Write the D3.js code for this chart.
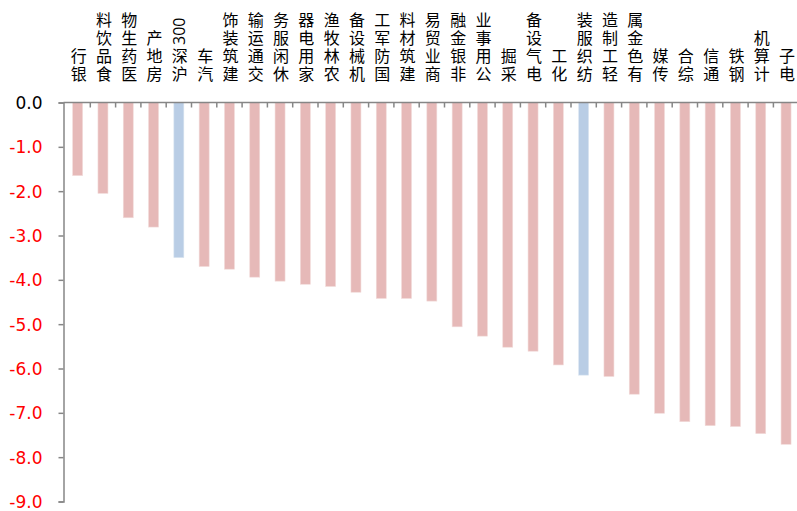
<!DOCTYPE html>
<html>
<head>
<meta charset="utf-8">
<script src="https://cdn.jsdelivr.net/npm/d3@7"></script>
<style>
  html, body { margin: 0; padding: 0; background: #fff; }
  svg { display: block; }
</style>
</head>
<body>
<svg id="chart" width="797" height="511"></svg>
<script>
// ---- data ----
const categories = ["银行","食品饮料","医药生物","房地产","沪深300","汽车","建筑装饰","交通运输","休闲服务","家用电器","农林牧渔","机械设备","国防军工","建筑材料","商业贸易","非银金融","公用事业","采掘","电气设备","化工","纺织服装","轻工制造","有色金属","传媒","综合","通信","钢铁","计算机","电子"];
const values = [-1.65,-2.05,-2.60,-2.81,-3.50,-3.70,-3.76,-3.94,-4.03,-4.10,-4.15,-4.28,-4.42,-4.42,-4.48,-5.06,-5.27,-5.52,-5.61,-5.92,-6.15,-6.18,-6.58,-7.01,-7.20,-7.29,-7.31,-7.47,-7.71];
const highlighted = ["沪深300","纺织服装"];
const yTicks = [0,-1,-2,-3,-4,-5,-6,-7,-8,-9];

// ---- layout ----
const svg = d3.select("#chart");
const xb = d3.scaleBand().domain(categories).range([65, 65 + 29 * 25.3]);
const y = d3.scaleLinear().domain([0, -9]).range([102.5, 501.5]);

const axisColor = "#868686";

// bars
svg.append("g").selectAll("rect").data(categories).join("rect")
  .attr("x", d => xb(d) + xb.bandwidth() / 2 - 5)
  .attr("width", 10)
  .attr("y", y(0))
  .attr("height", (d, i) => y(values[i]) - y(0))
  .attr("fill", d => highlighted.includes(d) ? "#B9CDE5" : "#E6B9B8")
  .attr("stroke", d => highlighted.includes(d) ? "#DCE6F2" : "#F2DCDB")
  .attr("stroke-width", 0.6);

// y axis
const yAxis = d3.axisLeft(y).tickValues(yTicks).tickSize(5);
const gy = svg.append("g").attr("transform", "translate(63.5,0)").call(yAxis);
gy.select(".domain").attr("stroke", axisColor).attr("stroke-width", 1.5);
gy.selectAll(".tick line").attr("stroke", axisColor).attr("stroke-width", 1.5);
gy.selectAll(".tick text")
  .attr("x", -21)
  .attr("dy", "0.36em")
  .attr("font-family", "'DejaVu Sans', sans-serif")
  .attr("font-size", 17)
  .attr("fill", d => d === 0 ? "#000" : "#FF0000")
  .text(d => d3.format(".1f")(d).replace("−", "-"));

// x axis (at zero, ticks between categories pointing down)
svg.append("line")
  .attr("x1", 63.5).attr("x2", 797)
  .attr("y1", y(0)).attr("y2", y(0))
  .attr("stroke", axisColor).attr("stroke-width", 1.5);
svg.append("g").selectAll("line").data(categories).join("line")
  .attr("x1", d => xb(d) + xb.bandwidth()).attr("x2", d => xb(d) + xb.bandwidth())
  .attr("y1", y(0)).attr("y2", y(0) + 5)
  .attr("stroke", axisColor).attr("stroke-width", 1.5);

// category labels: rotated -90, CJK glyphs turned upright via the rotate attribute
const labelBottom = 80;
const isCJK = c => /[\u4e00-\u9fff]/.test(c);
const lg = svg.append("g")
  .attr("font-family", "'Noto Sans CJK SC', sans-serif")
  .attr("font-size", 16)
  .attr("fill", "#000");
categories.forEach(cat => {
  const cx = xb(cat) + xb.bandwidth() / 2 + 1;
  const t = lg.append("text")
    .attr("transform", `translate(${cx - 8},${labelBottom}) rotate(-90)`)
    .attr("text-anchor", "start");
  const segs = cat.match(/[\u4e00-\u9fff]+|[^\u4e00-\u9fff]+/g);
  segs.forEach(s => {
    if (isCJK(s[0])) {
      t.append("tspan")
        .style("letter-spacing", "2px")
        .attr("rotate", Array.from(s).map(() => 90).join(" "))
        .text(s);
    } else {
      t.append("tspan")
        .attr("dy", 13.5)
        .attr("dx", -1)
        .attr("font-family", "'Open Sans', 'DejaVu Sans', sans-serif")
        .attr("font-size", 16)
        .attr("rotate", Array.from(s).map(() => 0).join(" "))
        .text(s);
    }
  });
});
</script>
</body>
</html>
